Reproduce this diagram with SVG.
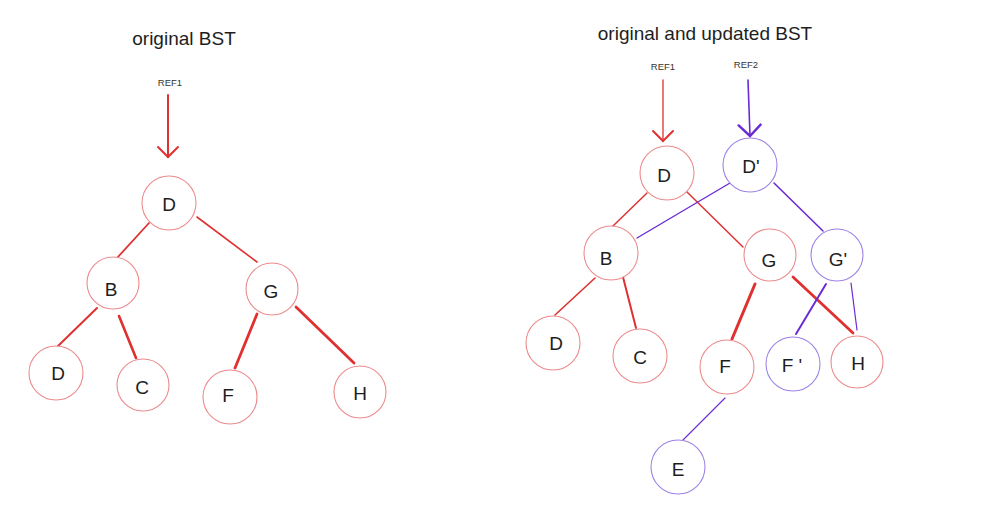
<svg xmlns="http://www.w3.org/2000/svg" width="1000" height="531" viewBox="0 0 1000 531">
<style>
.bg{fill:#ffffff}
.title{font-family:"Liberation Sans",Arial,sans-serif;font-size:19px;fill:#1e1e1e;text-anchor:middle}
.ref{font-family:"Liberation Sans",Arial,sans-serif;font-size:9.5px;fill:#333333;text-anchor:middle}
.lbl{font-family:"Liberation Sans",Arial,sans-serif;font-size:19px;fill:#1e1e1e;text-anchor:middle;dominant-baseline:central}
.nr{fill:#ffffff;stroke:#ec8a8c;stroke-width:1.1}
.np{fill:#ffffff;stroke:#9d82e6;stroke-width:1.1}
.er{stroke:#e03131;stroke-linecap:round;fill:none}
.ep{stroke:#6a2bd4;stroke-linecap:round;fill:none}
</style>
<defs>
<marker id="hr" viewBox="-12 -12 14 24" markerWidth="14" markerHeight="24" refX="0" refY="0" orient="auto" markerUnits="userSpaceOnUse">
<path d="M-10,-10 L0,0 L-10,10" fill="none" stroke="#e03131" stroke-width="2" stroke-linecap="round"/>
</marker>
<marker id="hp" viewBox="-13 -13 15 26" markerWidth="15" markerHeight="26" refX="0" refY="0" orient="auto" markerUnits="userSpaceOnUse">
<path d="M-11,-11 L0,0 L-11,11" fill="none" stroke="#6a2bd4" stroke-width="2.4" stroke-linecap="round"/>
</marker>
</defs>
<rect class="bg" x="0" y="0" width="1000" height="531"/>

<text class="title" x="184" y="45">original BST</text>
<text class="ref" x="170" y="86">REF1</text>
<text class="title" x="705" y="40">original and updated BST</text>
<text class="ref" x="663" y="70">REF1</text>
<text class="ref" x="746" y="68">REF2</text>

<g id="connectors">
<!-- left tree -->
<line class="er" x1="168" y1="95" x2="168" y2="157" stroke-width="2" marker-end="url(#hr)"/>
<line class="er" x1="149" y1="223" x2="117" y2="258" stroke-width="1.8"/>
<line class="er" x1="197" y1="217" x2="257" y2="262" stroke-width="1.6"/>
<line class="er" x1="97" y1="308" x2="58" y2="346" stroke-width="2"/>
<line class="er" x1="119" y1="316" x2="136" y2="358" stroke-width="2.6"/>
<line class="er" x1="257" y1="314" x2="235" y2="368" stroke-width="2.8"/>
<line class="er" x1="296" y1="307" x2="354" y2="363" stroke-width="2.8"/>
<!-- right tree -->
<line class="er" x1="663" y1="80" x2="663" y2="141" stroke-width="1.3" marker-end="url(#hr)"/>
<line class="ep" x1="748" y1="80" x2="750" y2="136" stroke-width="1.6" marker-end="url(#hp)"/>
<line class="er" x1="647" y1="193" x2="613" y2="226" stroke-width="1.5"/>
<line class="er" x1="687" y1="192" x2="743" y2="247" stroke-width="1.5"/>
<line class="ep" x1="730" y1="183" x2="637" y2="238" stroke-width="1.4"/>
<line class="ep" x1="774" y1="183" x2="823" y2="231" stroke-width="1.6"/>
<line class="er" x1="595" y1="278" x2="555" y2="315" stroke-width="1.6"/>
<line class="er" x1="623" y1="277" x2="636" y2="328" stroke-width="2"/>
<line class="er" x1="755" y1="284" x2="732" y2="339" stroke-width="3"/>
<line class="er" x1="793" y1="277" x2="853" y2="333" stroke-width="2.8"/>
<line class="ep" x1="826" y1="284" x2="796" y2="334" stroke-width="2"/>
<line class="ep" x1="851" y1="283" x2="857" y2="330" stroke-width="1.2"/>
<line class="ep" x1="725" y1="398" x2="683" y2="440" stroke-width="1.1"/>
</g>

<g id="node-l-D"><circle class="nr" cx="169" cy="203" r="27"/><text class="lbl" x="169" y="204">D</text></g>
<g id="node-l-B"><circle class="nr" cx="113" cy="283" r="26"/><text class="lbl" x="111" y="289">B</text></g>
<g id="node-l-G"><circle class="nr" cx="272" cy="289" r="26"/><text class="lbl" x="271" y="291">G</text></g>
<g id="node-l-D2"><circle class="nr" cx="56" cy="373" r="27"/><text class="lbl" x="58" y="373">D</text></g>
<g id="node-l-C"><circle class="nr" cx="143" cy="385" r="26"/><text class="lbl" x="142" y="387">C</text></g>
<g id="node-l-F"><circle class="nr" cx="230" cy="397" r="27"/><text class="lbl" x="228" y="395">F</text></g>
<g id="node-l-H"><circle class="nr" cx="360" cy="392" r="26"/><text class="lbl" x="360" y="393">H</text></g>

<g id="node-r-D"><circle class="nr" cx="667" cy="173" r="27"/><text class="lbl" x="664" y="175">D</text></g>
<g id="node-r-Dp"><circle class="np" cx="750" cy="165" r="27"/><text class="lbl" x="751" y="166">D'</text></g>
<g id="node-r-B"><circle class="nr" cx="611" cy="253" r="27"/><text class="lbl" x="606" y="258">B</text></g>
<g id="node-r-G"><circle class="nr" cx="770" cy="255" r="26"/><text class="lbl" x="769" y="260">G</text></g>
<g id="node-r-Gp"><circle class="np" cx="837" cy="255" r="26"/><text class="lbl" x="838" y="259">G'</text></g>
<g id="node-r-D2"><circle class="nr" cx="553" cy="343" r="27"/><text class="lbl" x="556" y="343">D</text></g>
<g id="node-r-C"><circle class="nr" cx="640" cy="356" r="27"/><text class="lbl" x="640" y="357">C</text></g>
<g id="node-r-F"><circle class="nr" cx="727" cy="367" r="27"/><text class="lbl" x="725" y="366">F</text></g>
<g id="node-r-Fp"><circle class="np" cx="793" cy="364" r="27"/><text class="lbl" x="792" y="365">F '</text></g>
<g id="node-r-H"><circle class="nr" cx="857" cy="362" r="26"/><text class="lbl" x="858" y="363">H</text></g>
<g id="node-r-E"><circle class="np" cx="678" cy="467" r="27"/><text class="lbl" x="678" y="469">E</text></g>
</svg>
